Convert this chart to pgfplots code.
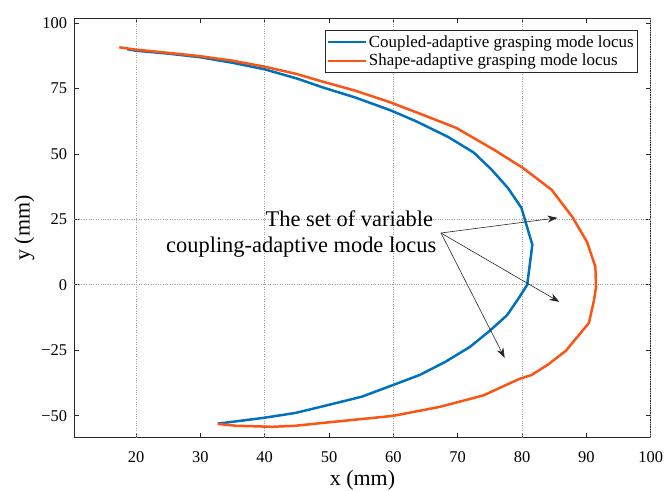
\documentclass[border=0pt]{standalone}
\usepackage{pgfplots}
\pgfplotsset{compat=1.18}
\usepackage{fontspec}
\setmainfont{Liberation Serif}
\usetikzlibrary{arrows.meta}
\definecolor{mblue}{RGB}{0,114,189}
\definecolor{morange}{RGB}{250,85,20}
\definecolor{frame}{RGB}{40,40,40}
\begin{document}
\begin{tikzpicture}
\begin{axis}[
  at={(0,0)}, anchor=south west,
  scale only axis, width=576.7bp, height=420bp,
  xmin=10.4, xmax=100, ymin=-58.4, ymax=101.9,
  xtick={20,30,...,100}, ytick={-50,-25,...,100},
  yticklabels={−50,−25,0,25,50,75,100},
  /pgf/number format/assume math mode=true,
  tick align=inside, major tick length=5bp,
  axis line style={frame, line width=0.8bp},
  every tick/.style={frame, line width=0.8bp},
  xmajorgrids=false, ymajorgrids=false,
  extra x ticks={20,40,60,80,100}, extra x tick labels={},
  extra y ticks={0,25}, extra y tick labels={},
  extra x tick style={xmajorgrids=true, major tick length=0pt},
  extra y tick style={ymajorgrids=true, major tick length=0pt},
  grid style={dotted, gray!75, line width=0.8bp},
  ticklabel style={font=\fontsize{16.5}{16.5}\selectfont},
  xticklabel style={anchor=base, yshift=-25bp, inner sep=0pt},
  yticklabel style={anchor=east, xshift=-7bp, inner sep=0pt},
  xlabel={x (mm)}, ylabel={y (mm)},
  xlabel style={at={(axis description cs:0.5,0)}, anchor=base, yshift=-48bp, font=\fontsize{22}{22}\selectfont},
  ylabel style={at={(axis description cs:0,0.5)}, anchor=center, yshift=50bp, font=\fontsize{22}{22}\selectfont},
  legend style={at={(axis description cs:0.977,0.971)}, anchor=north east,
    font=\fontsize{17}{18}\selectfont, draw=frame, line width=0.7bp,
    inner xsep=2bp, inner ysep=3.5bp, row sep=2.5bp,
    nodes={inner xsep=1.5bp, inner ysep=1.5bp}},
  legend cell align=left,
  legend image code/.code={\draw[#1, line width=2.5bp] (0bp,0bp) -- (38bp,0bp);},
]
\addplot[mblue, line width=2.5bp] coordinates {
(18.6,90) (20,89.4) (25,88.3) (30,86.9) (35,84.8) (40,82.3) (45,78.8) (49,75.4)
(54,71.6) (59.4,66.8) (63.5,62.5) (68.5,56.5) (72.5,50.5) (75.3,43.9) (77.8,37)
(79.9,29.4) (81.6,15.3) (80.8,0) (79.5,-5) (77.7,-11.5) (75,-17.5) (71.9,-23.7)
(68,-29.5) (64.1,-34.4) (60,-38.2) (55.1,-42.7) (50,-45.8) (44.8,-48.9)
(39.8,-50.8) (32.7,-53)
};
\addlegendentry{Coupled-adaptive grasping mode locus}
\addplot[morange, line width=2.5bp] coordinates {
(17.4,90.7) (20,89.8) (25,88.6) (30,87.3) (35,85.6) (40,83.3) (45,80.5) (49,77.6)
(54,74.2) (59.4,69.8) (64.5,65) (69.8,59.9) (75.7,51.5) (80.1,44.7) (84.6,36.3)
(87.8,26) (90.1,16.4) (91.4,6.9) (91.5,-0.8) (91.2,-5.7) (90.4,-14.5) (88.9,-19)
(86.8,-25.2) (84,-30.5) (81.5,-34.4) (79.6,-35.9) (74,-42.2) (67.2,-46.6)
(60,-50) (55.6,-51.1) (49.1,-52.7) (44.8,-53.8) (41.2,-54.2) (35.5,-53.8) (32.7,-53.1)
};
\addlegendentry{Shape-adaptive grasping mode locus}
\node[anchor=base east, inner sep=0pt, font=\fontsize{22.5}{25}\selectfont] at (axis cs:66.2,22.1) {The set of variable};
\node[anchor=base east, inner sep=0pt, font=\fontsize{22.5}{25}\selectfont] at (axis cs:66.7,12.2) {coupling-adaptive mode locus};
\draw[-{Stealth[length=10bp,width=7bp]}, line width=0.6bp, black!85] (axis cs:67.4,19.8) -- (axis cs:85.5,25.6);
\draw[-{Stealth[length=10bp,width=7bp]}, line width=0.6bp, black!85] (axis cs:67.4,19.8) -- (axis cs:85.8,-6.5);
\draw[-{Stealth[length=10bp,width=7bp]}, line width=0.6bp, black!85] (axis cs:67.4,19.8) -- (axis cs:77.3,-27.9);
\end{axis}
\pgfresetboundingbox
\path (-74.3bp,-53bp) rectangle (591bp,438bp);
\end{tikzpicture}
\end{document}
